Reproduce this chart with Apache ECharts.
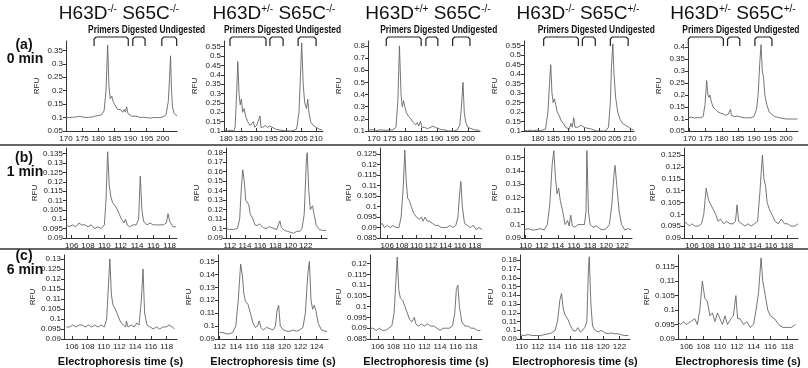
<!DOCTYPE html>
<html lang="en">
<head>
    <meta charset="UTF-8">
    <title>H63D / S65C electropherograms</title>
    <script src="https://cdn.jsdelivr.net/npm/echarts@6/dist/echarts.min.js"></script>
    <style>
        html, body { margin: 0; padding: 0; background: #fff; }
        #chart { width: 808px; height: 368px; }
    </style>
</head>
<body>
<div id="chart"></div>
<script type="text/javascript">
    // column titles: [base, sup, base, sup]
    var genotypes = [
        ['H63D', '-/-', ' S65C', '-/-'],
        ['H63D', '+/-', ' S65C', '-/-'],
        ['H63D', '+/+', ' S65C', '-/-'],
        ['H63D', '-/-', ' S65C', '+/-'],
        ['H63D', '+/-', ' S65C', '+/-']
    ];
    var rowLabels = [['(a)', '0 min'], ['(b)', '1 min'], ['(c)', '6 min']];
    var bracketText = 'Primers Digested Undigested';

    // tick labels
    var t170 = [170, 175, 180, 185, 190, 195, 200];
    var t180 = [180, 185, 190, 195, 200, 205, 210];
    var t106 = [106, 108, 110, 112, 114, 116, 118];
    var t110 = [110, 112, 114, 116, 118, 120, 122];
    var t112 = [112, 114, 116, 118, 120, 122];
    var t112b = [112, 114, 116, 118, 120, 122, 124];

    var rfuA1 = [0.05, 0.1, 0.15, 0.2, 0.25, 0.3, 0.35];
    var rfuA2 = [0.1, 0.15, 0.2, 0.25, 0.3, 0.35, 0.4, 0.45, 0.5, 0.55];
    var rfuA3 = [0.1, 0.2, 0.3, 0.4, 0.5, 0.6, 0.7, 0.8];
    var rfuA4 = [0.1, 0.15, 0.2, 0.25, 0.3, 0.35, 0.4, 0.45, 0.5, 0.55];
    var rfuA5 = [0.05, 0.1, 0.15, 0.2, 0.25, 0.3, 0.35, 0.4];
    var rfuB1 = [0.09, 0.095, 0.1, 0.105, 0.11, 0.115, 0.12, 0.125, 0.13, 0.135];
    var rfuB2 = [0.09, 0.1, 0.11, 0.12, 0.13, 0.14, 0.15, 0.16, 0.17, 0.18];
    var rfuB3 = [0.085, 0.09, 0.095, 0.1, 0.105, 0.11, 0.115, 0.12, 0.125];
    var rfuB4 = [0.09, 0.1, 0.11, 0.12, 0.13, 0.14, 0.15];
    var rfuB5 = [0.09, 0.095, 0.1, 0.105, 0.11, 0.115, 0.12, 0.125];
    var rfuC1 = [0.09, 0.095, 0.1, 0.105, 0.11, 0.115, 0.12, 0.125, 0.13];
    var rfuC2 = [0.09, 0.1, 0.11, 0.12, 0.13, 0.14, 0.15];
    var rfuC3 = [0.085, 0.09, 0.095, 0.1, 0.105, 0.11, 0.115, 0.12];
    var rfuC4 = [0.09, 0.1, 0.11, 0.12, 0.13, 0.14, 0.15, 0.16, 0.17, 0.18];
    var rfuC5 = [0.09, 0.095, 0.1, 0.105, 0.11, 0.115];

    // traces [time (s), RFU]
    // (a) 0 min
    var a1 = [[170,0.1],[171,0.1],[172,0.101],[173,0.102],[174,0.105],[175,0.103],[176,0.1],[177,0.101],[178,0.102],[179,0.105],[180,0.108],[181,0.11],[181.8,0.125],[182.4,0.2],[182.9,0.37],[183.3,0.22],[183.7,0.17],[184.2,0.18],[184.6,0.16],[185,0.15],[185.5,0.14],[186,0.13],[186.5,0.125],[187,0.13],[187.5,0.12],[188,0.13],[188.4,0.12],[188.8,0.14],[189.2,0.115],[189.8,0.11],[190.4,0.105],[191,0.108],[192,0.105],[193,0.1],[194,0.101],[195,0.1],[196,0.098],[197,0.1],[198,0.1],[199,0.1],[200,0.102],[201,0.11],[201.7,0.16],[202.1,0.25],[202.4,0.33],[202.7,0.2],[203,0.14],[203.5,0.115],[204,0.11],[204.4,0.106]];
    var a2 = [[179.5,0.105],[180.5,0.1],[181.5,0.105],[182.5,0.1],[183,0.12],[183.5,0.3],[183.9,0.47],[184.3,0.3],[184.7,0.24],[185.1,0.27],[185.5,0.2],[186,0.22],[186.5,0.18],[187.2,0.15],[188,0.13],[188.6,0.12],[189.1,0.15],[189.5,0.12],[190.2,0.13],[190.8,0.12],[191.3,0.18],[191.6,0.12],[192.3,0.12],[193,0.13],[193.7,0.12],[194.5,0.125],[195.3,0.12],[196.5,0.11],[198,0.105],[200,0.1],[202,0.1],[203.5,0.11],[204.3,0.2],[204.8,0.4],[205.2,0.57],[205.7,0.35],[206.2,0.25],[206.8,0.22],[207.2,0.27],[207.6,0.2],[208.2,0.15],[209,0.13],[210,0.12],[211,0.11],[212,0.105]];
    var a3 = [[168.5,0.11],[170,0.11],[171,0.105],[172,0.11],[173,0.108],[174,0.105],[175,0.11],[176,0.11],[177,0.13],[177.6,0.35],[178.1,0.8],[178.6,0.4],[179,0.3],[179.4,0.35],[179.8,0.3],[180.3,0.25],[181,0.22],[181.7,0.2],[182.5,0.17],[183.2,0.15],[183.8,0.17],[184.2,0.14],[184.8,0.18],[185.2,0.13],[186,0.13],[187,0.12],[188,0.13],[188.7,0.14],[189.5,0.13],[190.5,0.12],[191.5,0.11],[192.5,0.11],[193.5,0.1],[194.5,0.1],[195.5,0.1],[196.5,0.11],[197.3,0.15],[197.8,0.3],[198.3,0.5],[198.7,0.25],[199.2,0.17],[199.8,0.13],[200.8,0.12],[202,0.11],[203.5,0.105]];
    var a4 = [[175.5,0.105],[176.5,0.1],[177.5,0.105],[178.5,0.1],[179.5,0.105],[180.5,0.1],[181.5,0.105],[182.5,0.11],[183.3,0.2],[183.8,0.35],[184.2,0.45],[184.6,0.3],[185,0.25],[185.4,0.27],[185.8,0.24],[186.3,0.2],[187,0.18],[187.7,0.15],[188.4,0.14],[189,0.12],[189.6,0.13],[190.2,0.11],[190.8,0.14],[191.2,0.12],[191.7,0.17],[192.1,0.12],[193,0.12],[194,0.13],[195,0.12],[196,0.115],[197.5,0.11],[199,0.1],[200.5,0.1],[202,0.1],[203,0.12],[203.6,0.25],[204,0.45],[204.4,0.56],[204.8,0.4],[205.3,0.28],[206,0.2],[206.8,0.16],[207.6,0.14],[208.5,0.13],[209.5,0.12],[210.5,0.11],[211.2,0.105]];
    var a5 = [[169.5,0.105],[170.5,0.108],[171.5,0.104],[172.5,0.106],[173.5,0.105],[174.2,0.11],[174.8,0.16],[175.3,0.26],[175.7,0.2],[176,0.19],[176.3,0.2],[176.8,0.17],[177.3,0.15],[178,0.14],[178.8,0.13],[179.5,0.125],[180,0.13],[180.6,0.12],[181.3,0.115],[182,0.12],[182.7,0.14],[183,0.115],[184,0.11],[185,0.112],[185.5,0.118],[186,0.108],[187,0.105],[188,0.105],[189,0.105],[190,0.11],[190.8,0.14],[191.3,0.2],[191.8,0.33],[192.2,0.41],[192.6,0.3],[193,0.27],[193.4,0.2],[194,0.16],[194.7,0.13],[195.5,0.12],[196.5,0.11],[198,0.105],[200,0.1],[202,0.1],[203.5,0.1]];
    // (b) 1 min
    var b1 = [[105.3,0.097],[105.7,0.096],[106.1,0.097],[106.5,0.096],[106.9,0.098],[107.2,0.097],[107.6,0.097],[108,0.096],[108.4,0.097],[108.8,0.095],[109.2,0.096],[109.6,0.095],[110,0.097],[110.2,0.11],[110.4,0.136],[110.6,0.118],[110.8,0.112],[111,0.109],[111.2,0.11],[111.5,0.106],[111.8,0.103],[112.1,0.1],[112.4,0.098],[112.6,0.1],[112.8,0.097],[113.1,0.096],[113.5,0.097],[113.9,0.097],[114.2,0.1],[114.4,0.123],[114.6,0.105],[114.8,0.099],[115.2,0.097],[115.6,0.098],[116,0.097],[116.4,0.097],[116.8,0.097],[117.2,0.097],[117.6,0.098],[117.8,0.103],[118,0.099],[118.4,0.096],[118.8,0.096]];
    var b2 = [[111.5,0.1],[112,0.099],[112.5,0.099],[113,0.1],[113.3,0.11],[113.5,0.14],[113.7,0.162],[113.9,0.15],[114.1,0.13],[114.3,0.13],[114.5,0.125],[114.7,0.115],[115,0.111],[115.3,0.104],[115.6,0.103],[115.9,0.105],[116.1,0.107],[116.4,0.101],[116.8,0.1],[117.2,0.102],[117.5,0.101],[117.8,0.1],[118.2,0.099],[118.4,0.104],[118.6,0.108],[118.8,0.101],[119.2,0.098],[119.6,0.097],[120,0.096],[120.4,0.095],[120.8,0.097],[121.2,0.097],[121.5,0.1],[121.8,0.115],[122.1,0.175],[122.2,0.18],[122.4,0.14],[122.6,0.12],[122.9,0.124],[123.1,0.115],[123.4,0.103],[123.8,0.099],[124.2,0.098],[124.7,0.098]];
    var b3 = [[105,0.091],[105.3,0.092],[105.6,0.09],[106,0.091],[106.4,0.09],[106.8,0.091],[107.2,0.09],[107.6,0.09],[107.9,0.095],[108.2,0.11],[108.4,0.127],[108.6,0.112],[108.8,0.104],[109,0.103],[109.3,0.1],[109.6,0.097],[110,0.095],[110.4,0.094],[110.7,0.095],[110.9,0.093],[111.2,0.095],[111.5,0.093],[111.8,0.093],[112.2,0.092],[112.6,0.091],[113,0.091],[113.4,0.09],[113.8,0.09],[114.2,0.09],[114.6,0.091],[115,0.09],[115.4,0.091],[115.7,0.095],[115.9,0.105],[116.1,0.112],[116.3,0.1],[116.6,0.092],[117,0.091],[117.4,0.09],[117.8,0.091],[118.2,0.089],[118.6,0.09],[119,0.089]];
    var b4 = [[109.8,0.096],[110.3,0.097],[110.8,0.096],[111.3,0.096],[111.8,0.097],[112.3,0.096],[112.7,0.1],[113,0.115],[113.3,0.145],[113.5,0.155],[113.7,0.135],[113.9,0.123],[114.1,0.127],[114.3,0.118],[114.6,0.11],[114.9,0.1],[115.2,0.103],[115.4,0.099],[115.6,0.107],[115.8,0.099],[116.1,0.098],[116.5,0.1],[116.9,0.1],[117.3,0.1],[117.5,0.11],[117.6,0.155],[117.8,0.11],[118,0.1],[118.4,0.098],[118.8,0.099],[119.2,0.097],[119.6,0.096],[120,0.097],[120.4,0.1],[120.7,0.115],[121,0.14],[121.1,0.144],[121.3,0.13],[121.6,0.11],[121.9,0.1],[122.3,0.096],[122.7,0.097],[123.1,0.096]];
    var b5 = [[105,0.097],[105.4,0.096],[105.7,0.095],[106,0.096],[106.4,0.095],[106.8,0.095],[107.2,0.096],[107.5,0.1],[107.8,0.111],[108.1,0.106],[108.4,0.104],[108.7,0.102],[109,0.1],[109.3,0.097],[109.6,0.098],[110,0.096],[110.4,0.097],[110.8,0.096],[111.2,0.096],[111.5,0.097],[111.7,0.104],[111.9,0.097],[112.3,0.096],[112.7,0.095],[113.1,0.096],[113.5,0.095],[113.9,0.096],[114.3,0.097],[114.6,0.11],[114.9,0.125],[115.1,0.115],[115.3,0.112],[115.5,0.105],[115.8,0.102],[116.1,0.1],[116.5,0.097],[116.9,0.096],[117.3,0.098],[117.7,0.096],[118.1,0.096],[118.5,0.095],[119,0.095],[119.4,0.096]];
    // (c) 6 min
    var c1 = [[105.3,0.096],[105.7,0.096],[106.1,0.097],[106.5,0.096],[106.9,0.097],[107.3,0.097],[107.7,0.096],[108.1,0.097],[108.5,0.096],[108.9,0.097],[109.3,0.096],[109.7,0.097],[110.1,0.096],[110.4,0.1],[110.6,0.115],[110.8,0.13],[111,0.112],[111.2,0.107],[111.5,0.105],[111.8,0.102],[112.1,0.099],[112.5,0.097],[112.8,0.096],[112.9,0.099],[113.1,0.096],[113.5,0.097],[113.9,0.096],[114.2,0.098],[114.5,0.097],[114.8,0.11],[115,0.125],[115.2,0.103],[115.5,0.097],[115.9,0.096],[116.3,0.095],[116.7,0.096],[117.1,0.095],[117.5,0.096],[117.9,0.096],[118.3,0.097],[118.7,0.096],[119,0.095]];
    var c2 = [[112,0.095],[112.4,0.095],[112.8,0.094],[113.2,0.094],[113.6,0.095],[114,0.1],[114.3,0.12],[114.6,0.148],[114.8,0.14],[115,0.125],[115.2,0.119],[115.5,0.117],[115.8,0.11],[116.1,0.103],[116.4,0.099],[116.7,0.1],[116.9,0.104],[117.1,0.099],[117.4,0.097],[117.8,0.099],[118.2,0.098],[118.6,0.097],[118.9,0.1],[119.1,0.112],[119.3,0.116],[119.5,0.1],[119.9,0.097],[120.3,0.096],[120.7,0.096],[121.1,0.097],[121.5,0.096],[121.9,0.097],[122.3,0.099],[122.6,0.11],[122.9,0.14],[123.1,0.15],[123.3,0.12],[123.5,0.113],[123.7,0.116],[123.9,0.112],[124.2,0.102],[124.6,0.097],[125,0.096],[125.3,0.096]];
    var c3 = [[105,0.09],[105.4,0.09],[105.8,0.089],[106.2,0.09],[106.6,0.089],[107,0.089],[107.4,0.09],[107.8,0.091],[108.1,0.097],[108.3,0.11],[108.5,0.123],[108.7,0.108],[108.9,0.104],[109.2,0.103],[109.5,0.1],[109.8,0.097],[110.1,0.094],[110.4,0.093],[110.7,0.095],[110.9,0.092],[111.2,0.091],[111.6,0.092],[112,0.091],[112.4,0.092],[112.8,0.091],[113.2,0.091],[113.6,0.09],[114,0.089],[114.4,0.09],[114.8,0.09],[115.2,0.09],[115.6,0.091],[115.9,0.097],[116.1,0.108],[116.3,0.11],[116.5,0.1],[116.8,0.093],[117.2,0.091],[117.6,0.091],[118,0.09],[118.4,0.09],[118.8,0.089],[119.2,0.089]];
    var c4 = [[109.8,0.095],[110.3,0.094],[110.8,0.095],[111.3,0.094],[111.8,0.094],[112.3,0.094],[112.8,0.095],[113.3,0.096],[113.7,0.097],[114.1,0.1],[114.4,0.11],[114.7,0.135],[114.9,0.142],[115.1,0.125],[115.3,0.118],[115.5,0.12],[115.7,0.112],[116,0.105],[116.3,0.1],[116.6,0.099],[116.9,0.103],[117.2,0.098],[117.5,0.1],[117.8,0.104],[118,0.11],[118.2,0.17],[118.3,0.184],[118.5,0.13],[118.7,0.105],[119,0.1],[119.4,0.098],[119.8,0.1],[120.2,0.097],[120.6,0.096],[121,0.097],[121.4,0.096],[121.8,0.096],[122.2,0.095],[122.6,0.094],[123.1,0.094]];
    var c5 = [[105,0.096],[105.3,0.095],[105.7,0.096],[106,0.095],[106.5,0.096],[107,0.097],[107.3,0.095],[107.6,0.1],[107.9,0.11],[108.2,0.104],[108.5,0.103],[108.8,0.098],[109.1,0.099],[109.4,0.096],[109.7,0.099],[110,0.097],[110.3,0.095],[110.6,0.098],[110.9,0.095],[111.3,0.097],[111.6,0.098],[111.9,0.105],[112.1,0.097],[112.4,0.097],[112.8,0.095],[113.2,0.096],[113.6,0.094],[114,0.095],[114.3,0.1],[114.6,0.106],[114.9,0.118],[115.1,0.11],[115.4,0.105],[115.7,0.1],[116,0.098],[116.5,0.097],[117,0.095],[117.5,0.094],[118,0.094],[118.5,0.094],[119,0.095]];

    // bracket spans (s) for the 0 min panels: primers, digested, undigested
    var brA1 = [[178.7, 189.3], [190.7, 194.5], [199.7, 204.3]];
    var brA2 = [[181.3, 193.3], [194.6, 199], [204, 210]];
    var brA3 = [[173.9, 185], [186.5, 190.3], [195, 200.5]];
    var brA4 = [[181.9, 193.2], [194.5, 198.7], [203.6, 209.4]];
    var brA5 = [[169.6, 180.5], [181.8, 185.6], [190.3, 195.6]];

    var traces = [a1, a2, a3, a4, a5, b1, b2, b3, b4, b5, c1, c2, c3, c4, c5];
    var brackets = [brA1, brA2, brA3, brA4, brA5];
    var xLabels = [t170, t180, t170, t180, t170, t106, t112, t106, t110, t106, t106, t112b, t106, t110, t106];
    var xTicks = [t170, t180, t170, t180, t170, t106, t112b, t106, t110, t106, t106, t112b, t106, t110, t106];
    var yTicks = [rfuA1, rfuA2, rfuA3, rfuA4, rfuA5, rfuB1, rfuB2, rfuB3, rfuB4, rfuB5, rfuC1, rfuC2, rfuC3, rfuC4, rfuC5];
    var xRanges = [[170, 204.4], [179.3, 212.3], [168.1, 203.7], [175.5, 211.3], [169.5, 203.7],
        [105.3, 118.9], [111.5, 124.8], [105, 119], [109.8, 123.2], [105, 119.4],
        [105, 119.3], [111.8, 125.4], [105, 119.4], [109.8, 123.3], [105, 119.3]];
    var yRanges = [[0.05, 0.385], [0.1, 0.58], [0.1, 0.84], [0.1, 0.575], [0.05, 0.425],
        [0.09, 0.138], [0.09, 0.185], [0.085, 0.128], [0.09, 0.157], [0.09, 0.128],
        [0.09, 0.132], [0.09, 0.155], [0.085, 0.124], [0.09, 0.186], [0.09, 0.119]];

    // layout: [left, top, width, height] px
    var boxes = [
        [66, 41, 111, 90], [224, 41, 99, 90], [368, 41, 112, 90], [524, 41, 110, 90], [688, 41, 110, 90],
        [66, 148, 111, 90], [226, 148, 101, 90], [380, 148, 102, 90], [524, 148, 108, 90], [684, 148, 114, 90],
        [64, 255, 113, 87], [218, 255, 110, 87], [370, 255, 112, 87], [520, 255, 110, 87], [678, 255, 120, 87]
    ];
    var titleX = [119, 274, 428, 578, 733];

    var FONT = '"Liberation Sans", Arial, sans-serif';
    var chart = echarts.init(document.getElementById('chart'));

    function fmt(v) {
        return String(+(+v).toFixed(4));
    }

    var grids = [], xAxes = [], yAxes = [], series = [];
    for (var i = 0; i < traces.length; i++) {
        var b = boxes[i];
        grids.push({left: b[0], top: b[1], width: b[2], height: b[3], containLabel: false});
        xAxes.push({
            type: 'value', gridIndex: i,
            min: xRanges[i][0], max: xRanges[i][1],
            axisLine: {show: true, onZero: false, lineStyle: {color: '#333', width: 1}},
            axisTick: {show: true, inside: true, length: 3, customValues: xTicks[i], lineStyle: {color: '#333'}},
            axisLabel: {show: true, customValues: xLabels[i], formatter: fmt, fontSize: 8, color: '#222', margin: 4, fontFamily: FONT},
            splitLine: {show: false},
            name: i >= 10 ? 'Electrophoresis time (s)' : '',
            nameLocation: 'middle', nameGap: 17,
            nameTextStyle: {fontSize: 11, fontWeight: 'bold', color: '#111', fontFamily: FONT}
        });
        yAxes.push({
            type: 'value', gridIndex: i,
            min: yRanges[i][0], max: yRanges[i][1],
            axisLine: {show: true, onZero: false, lineStyle: {color: '#333', width: 1}},
            axisTick: {show: true, length: 3, customValues: yTicks[i], lineStyle: {color: '#333'}},
            axisLabel: {show: true, customValues: yTicks[i], formatter: fmt, fontSize: 8, color: '#222', margin: 3, fontFamily: FONT},
            splitLine: {show: false},
            name: 'RFU', nameLocation: 'middle', nameGap: 25,
            nameTextStyle: {fontSize: 8, color: '#222', fontFamily: FONT}
        });
        series.push({
            type: 'line', xAxisIndex: i, yAxisIndex: i,
            data: traces[i], showSymbol: false, smooth: false,
            lineStyle: {color: '#666', width: 0.9},
            silent: true
        });
    }

    chart.setOption({
        animation: false,
        grid: grids,
        xAxis: xAxes,
        yAxis: yAxes,
        series: series
    });

    // texts, separators and the bracket marks over the 0 min row
    var graphics = [];
    genotypes.forEach(function (g, k) {
        graphics.push({
            type: 'text', x: titleX[k], y: 14,
            style: {
                text: '{m|' + g[0] + '}{s|' + g[1] + '}{m|' + g[2] + '}{s|' + g[3] + '}',
                align: 'center', verticalAlign: 'middle',
                rich: {
                    m: {fontSize: 19, fontFamily: FONT, fill: '#111'},
                    s: {fontSize: 10, fontFamily: FONT, fill: '#111', verticalAlign: 'top'}
                }
            }
        });
    });
    var rowY = [[45, 59], [158, 172], [256, 270]];
    rowLabels.forEach(function (r, k) {
        graphics.push({type: 'text', x: 24, y: rowY[k][0], style: {text: r[0], font: 'bold 14px ' + FONT, fill: '#111', align: 'center', verticalAlign: 'middle'}});
        graphics.push({type: 'text', x: 25, y: rowY[k][1], style: {text: r[1], font: 'bold 14px ' + FONT, fill: '#111', align: 'center', verticalAlign: 'middle'}});
    });
    [145, 249].forEach(function (y) {
        graphics.push({type: 'line', shape: {x1: 0, y1: y, x2: 808, y2: y}, style: {stroke: '#333', lineWidth: 1.5}});
    });
    brackets.forEach(function (br, k) {
        var x0 = chart.convertToPixel({xAxisIndex: k}, br[0][0]);
        graphics.push({
            type: 'text', x: x0 - 6, y: 30, scaleX: 0.84,
            style: {text: bracketText, font: 'bold 10px ' + FONT, fill: '#111', align: 'left', verticalAlign: 'middle'}
        });
        br.forEach(function (span) {
            var p1 = chart.convertToPixel({xAxisIndex: k}, span[0]);
            var p2 = chart.convertToPixel({xAxisIndex: k}, span[1]);
            graphics.push({
                type: 'polyline',
                shape: {points: [[p1, 46], [p1, 39], [p1 + 2, 37], [p2 - 2, 37], [p2, 39], [p2, 46]]},
                style: {stroke: '#222', lineWidth: 1.2, fill: null}
            });
        });
    });
    chart.setOption({graphic: graphics});

    window.addEventListener('resize', function () {
        chart.resize();
    });
</script>
</body>
</html>
